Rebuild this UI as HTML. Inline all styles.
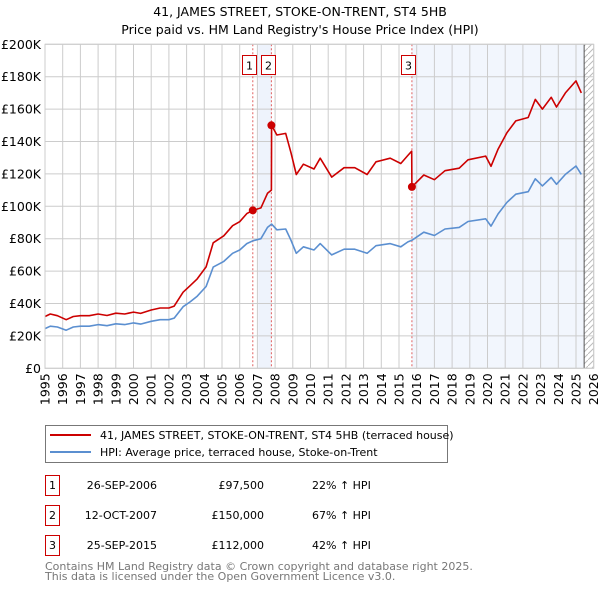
<!DOCTYPE html>
<html><head><meta charset="utf-8"><style>
body{margin:0;background:#fff;width:600px;height:590px;overflow:hidden;font-family:"DejaVu Sans","Liberation Sans",sans-serif}
svg{position:absolute;left:0;top:0}
</style></head><body>
<svg width="600" height="590" id="c">
<defs><pattern id="hatch" width="6" height="6" patternUnits="userSpaceOnUse"><path d="M0 6L6 0" stroke="#bbb" stroke-width="1"/></pattern></defs>
<text x="300" y="16" text-anchor="middle" font-size="12.5">41, JAMES STREET, STOKE-ON-TRENT, ST4 5HB</text>
<text x="300" y="34" text-anchor="middle" font-size="12.5">Price paid vs. HM Land Registry's House Price Index (HPI)</text>
<g id="plot"></g>
<g>
<rect x="45.5" y="425.5" width="402" height="37" fill="#fff" stroke="#777"/>
<line x1="50" y1="435" x2="91" y2="435" stroke="#cc0000" stroke-width="2"/>
<text x="100" y="439" font-size="11">41, JAMES STREET, STOKE-ON-TRENT, ST4 5HB (terraced house)</text>
<line x1="50" y1="452" x2="91" y2="452" stroke="#5b8fd0" stroke-width="2"/>
<text x="100" y="456" font-size="11">HPI: Average price, terraced house, Stoke-on-Trent</text>
</g>
<g font-size="11">
<rect x="45.5" y="475.5" width="14" height="20" fill="none" stroke="#cc0000"/><text x="52.5" y="489" text-anchor="middle">1</text>
<text x="157" y="489" text-anchor="end">26-SEP-2006</text><text x="264" y="489" text-anchor="end">£97,500</text><text x="312" y="489">22% ↑ HPI</text>
<rect x="45.5" y="505.5" width="14" height="20" fill="none" stroke="#cc0000"/><text x="52.5" y="519" text-anchor="middle">2</text>
<text x="157" y="519" text-anchor="end">12-OCT-2007</text><text x="264" y="519" text-anchor="end">£150,000</text><text x="312" y="519">67% ↑ HPI</text>
<rect x="45.5" y="535.5" width="14" height="20" fill="none" stroke="#cc0000"/><text x="52.5" y="549" text-anchor="middle">3</text>
<text x="157" y="549" text-anchor="end">25-SEP-2015</text><text x="264" y="549" text-anchor="end">£112,000</text><text x="312" y="549">42% ↑ HPI</text>
</g>
<text x="45" y="570" font-size="11" fill="#777">Contains HM Land Registry data © Crown copyright and database right 2025.</text>
<text x="45" y="580" font-size="11" fill="#777">This data is licensed under the Open Government Licence v3.0.</text>
</svg>
<script>
const hpiYears=[1995.0,1995.3,1995.7,1996.2,1996.6,1997.0,1997.5,1998.0,1998.5,1999.0,1999.5,2000.0,2000.4,2001.0,2001.5,2002.0,2002.3,2002.8,2003.2,2003.6,2004.1,2004.5,2005.1,2005.6,2006.0,2006.4,2006.74,2007.2,2007.57,2007.8,2008.1,2008.6,2008.9,2009.2,2009.6,2010.2,2010.55,2011.2,2011.9,2012.5,2013.2,2013.7,2014.5,2015.1,2015.5,2015.73,2016.4,2017.0,2017.6,2018.4,2018.9,2019.9,2020.2,2020.6,2021.1,2021.6,2022.3,2022.7,2023.1,2023.6,2023.9,2024.4,2025.0,2025.3];
const hpiValues=[24.5,26,25.5,23.5,25.5,26,26,27,26.3,27.5,27,28,27.3,29,30,30,31,38,41,44.5,50.5,62.5,66,71,73,77,78.7,80,87,89,85.5,86,79,71,75,73,77,70,73.5,73.5,71,75.7,77,75,78,79,84,82,86,87,90.6,92.3,87.8,95.3,102.5,107.5,109,117,112.6,117.8,113.6,119.7,124.9,119.7];
const priceYears=[1995.0,1995.3,1995.7,1996.2,1996.6,1997.0,1997.5,1998.0,1998.5,1999.0,1999.5,2000.0,2000.4,2001.0,2001.5,2002.0,2002.3,2002.8,2003.2,2003.6,2004.1,2004.5,2005.1,2005.6,2006.0,2006.4,2006.74,2007.2,2007.57,2007.79,2007.8,2008.1,2008.6,2008.9,2009.2,2009.6,2010.2,2010.55,2011.2,2011.9,2012.5,2013.2,2013.7,2014.5,2015.1,2015.5,2015.72,2015.73,2016.4,2017.0,2017.6,2018.4,2018.9,2019.9,2020.2,2020.6,2021.1,2021.6,2022.3,2022.7,2023.1,2023.6,2023.9,2024.4,2025.0,2025.3];
const priceValues=[32,33.5,32.5,30,32,32.5,32.5,33.5,32.6,34,33.5,34.7,33.9,36,37.2,37.2,38.4,47,51,55.2,62.6,77.5,81.8,88,90.5,95.5,97.5,99,108,110,150,144,145,133,119.6,126,123,129.7,118,123.8,123.8,119.6,127.5,129.7,126.4,131.4,134,112,119.3,116.4,122,123.5,128.7,131,124.7,135.3,145.5,152.7,154.8,166,160,167.3,161.3,170,177.4,170];
const saleYears=[2006.74,2007.79,2015.73];
const saleValues=[97.5,150,112];
const saleLabels=["1","2","3"];
const yTicks=[0,20,40,60,80,100,120,140,160,180,200];
const yTickLabels=["£0","£20K","£40K","£60K","£80K","£100K","£120K","£140K","£160K","£180K","£200K"];
const xTicks=[1995,1996,1997,1998,1999,2000,2001,2002,2003,2004,2005,2006,2007,2008,2009,2010,2011,2012,2013,2014,2015,2016,2017,2018,2019,2020,2021,2022,2023,2024,2025,2026];
const dataEndYear=2025.46;

const X0=45,X1=593.7,Y0=368.3,Y1=44.3;
const sx=y=>X0+(y-1995)/(2026-1995)*(X1-X0);
const sy=v=>Y0-(v/200)*(Y0-Y1);
const NS="http://www.w3.org/2000/svg";
const g=document.getElementById('plot');
function mk(t,a){const e=document.createElementNS(NS,t);for(const k in a)e.setAttribute(k,a[k]);g.appendChild(e);return e;}

let e;
e=mk('rect',{x:sx(2007.05),y:Y1,width:sx(saleYears[1])-sx(2007.05),height:Y0-Y1,fill:'#eef3fc'});


e=mk('rect',{x:sx(saleYears[2]),y:Y1,width:sx(dataEndYear)-sx(saleYears[2]),height:Y0-Y1,fill:'#f2f6fd'});


e=mk('rect',{x:sx(dataEndYear),y:Y1,width:X1-sx(dataEndYear),height:Y0-Y1,fill:'url(#hatch)'});



yTicks.forEach((v,i)=>{
 e=mk('line',{x1:X0,x2:X1,y1:sy(v),y2:sy(v),stroke:'#ccc','stroke-width':1});
 
 
 e=mk('text',{x:X0-4,y:sy(v)+4.5,'text-anchor':'end','font-size':12.5});
 e.textContent=yTickLabels[i];
 
 
});
xTicks.forEach(y=>{
 e=mk('line',{x1:sx(y),x2:sx(y),y1:Y1,y2:Y0,stroke:'#ccc','stroke-width':1});
 
 
 e=mk('text',{transform:`translate(${sx(y)+4.5},${Y0+5}) rotate(-90)`,'text-anchor':'end','font-size':12.5});
 e.textContent=y;
 
 
});
e=mk('line',{x1:sx(dataEndYear),x2:sx(dataEndYear),y1:Y1,y2:Y0,stroke:'#555','stroke-width':1});



saleYears.forEach((y,i)=>{
 e=mk('line',{x1:sx(y),x2:sx(y),y1:Y1,y2:Y0,stroke:'#e06060','stroke-width':1,'stroke-dasharray':'2,2'});
 
 
});

function path(xs,vs,col,name){
 const d=xs.map((x,i)=>(i?'L':'M')+sx(x).toFixed(1)+' '+sy(vs[i]).toFixed(1)).join('');
 const p=mk('path',{d:d,fill:'none',stroke:col,'stroke-width':1.6,'stroke-linejoin':'round'});
 
 
}
path(hpiYears,hpiValues,'#5b8fd0','hpi-line');
path(priceYears,priceValues,'#cc0000','price-paid-line');

saleYears.forEach((y,i)=>{
 e=mk('circle',{cx:sx(y),cy:sy(saleValues[i]),r:4,fill:'#cc0000'});
 
 
 const bx=Math.round(sx(y)-10.5);
 e=mk('rect',{x:bx+0.5,y:55.5,width:14,height:19,fill:'#fff',stroke:'#cc0000'});
 
 
 e=mk('text',{x:bx+7.5,y:69.5,'text-anchor':'middle','font-size':11});
 e.textContent=saleLabels[i];
 
 
});
e=mk('rect',{x:X0,y:Y1,width:X1-X0,height:Y0-Y1,fill:'none',stroke:'#ccc'});


</script>
</body></html>
